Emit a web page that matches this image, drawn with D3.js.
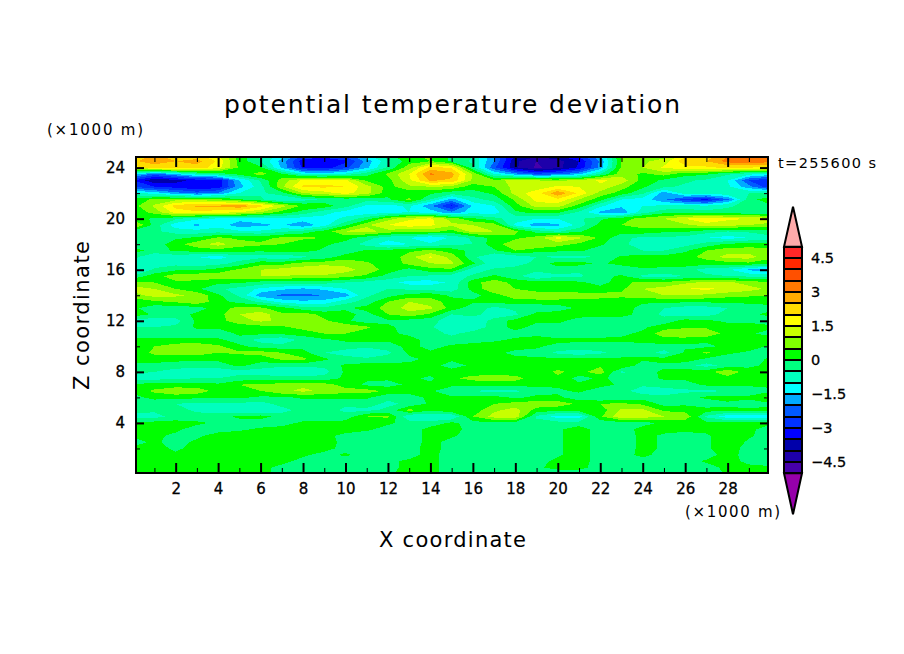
<!DOCTYPE html>
<html>
<head>
<meta charset="utf-8">
<script src="https://cdn.jsdelivr.net/npm/d3@7"></script>
<style>
  html, body { margin: 0; padding: 0; background: #fff; }
  text { font-family: "DejaVu Sans", sans-serif; fill: #000; }
</style>
</head>
<body>
<svg id="chart" width="904" height="654"></svg>
<script>
//Grid positions, km
var xCoords = d3.range(0, 31);
var zCoords = [24.9,24.5,24,23.5,23,22.5,22,21.5,21,20.5,20,19.5,19,18.5,18,17.5,17,16.5,16,15.5,15,14.5,14,13.5,13,12.5,12,11.5,11,10.5,10,9.5,9,8.5,8,7.5,7,6.5,6,5.5,5,4.5,4,3.5,3,2.5,2,1.5,1,.5,.1];

//Potential temperature deviation, one row per entry of zCoords
var thetaRows = [
[2.2,2.6,2.3,2.2,1.6,.3,-.6,-1.2,-2.6,-2.8,-2.4,-1.2,-.2,.4,.6,-.1,-.5,-2,-3.6,-3.9,-3.6,-2.8,-1.6,.6,1,.8,1.9,2.2,3,3.3,2.8],
[2.4,2.8,2.5,2.7,1.9,.3,-.5,-1.7,-3.3,-3.4,-3.1,-1.8,-.6,.3,.5,-.1,-.6,-2,-3.9,-4.5,-4.2,-3.5,-1.9,.5,.9,1.2,2.4,2.5,3.2,3.5,3.2],
[1.8,2.2,2.3,2.3,1.7,.4,.1,-1.6,-3.1,-3.2,-2.7,-1.6,-.4,.8,2.2,1.9,-.4,-2.4,-3.9,-4.6,-4.2,-3.4,-1.8,.6,1,1.6,1.8,1.9,2.1,2,1.9],
[-1.2,-2.2,-1.5,-.7,-.3,.2,.7,.1,-1,-1.2,-.9,-.2,.6,1.5,3.1,2.7,.9,-1,-1.8,-2.4,-2.2,-1.6,-.5,.8,.4,.7,.2,.1,-.4,-.8,-1.2],
[-3,-3.9,-3.7,-3.3,-3.3,-1.5,-.4,.7,1.6,1.8,1.6,.4,.3,1.4,2.6,2.4,.9,.6,1.4,1,.9,1.1,1.6,1.3,.3,-.1,-.4,-.6,-1,-2.5,-3],
[-2.5,-3,-3.2,-3.5,-3.3,-1.7,-.7,.9,2.1,2.1,2,1.2,.3,.9,1,.9,.2,.5,1.2,1.2,1.6,1.5,1.4,.7,.1,-.4,-.6,-.7,-.9,-1.8,-2.9],
[-.9,-1.2,-1.8,-2.2,-1.9,-1,-.6,-.2,1,1.3,1.7,1.2,.2,.2,.1,-.3,-.2,.1,1.2,1.8,2.9,1.9,.8,.3,-.4,-1.8,-.7,-.8,-.6,-.5,-.4],
[.2,.6,.8,.8,.6,.1,-.4,-1,-.7,-.4,-.3,-.3,-.1,.6,-.5,-1.7,-.7,-.3,.6,1.7,1.9,1,.2,-1,-1.2,-1.9,-2.7,-3.1,-2.1,-.2,.3],
[.3,1.1,2.2,2.6,2.6,2.9,2.2,1.2,.4,.3,-.3,-1.1,-1.2,-.9,-1.9,-3.1,-1.4,-1,.3,1.2,1.2,.3,-.9,-1.4,-1,-.9,-.8,-.9,-.6,-.3,-.1],
[.1,.7,1.7,1.9,1.7,1.5,1,.3,-.2,-.8,-1.2,-1.3,-1.2,-1,-1.2,-1.9,-1.2,-1.3,-.1,.2,.1,-.6,-1.6,-1.9,-.7,-.2,-.2,-.3,-.3,-.4,-.3],
[.3,-.1,-.4,-.9,-1.1,-1.3,-1.2,-1.1,-1.2,-1.2,-.9,-.2,.8,1.4,1.6,.8,.1,-.3,-.8,-1,-1,-.6,-.1,.3,.7,1,1.5,1.9,1.6,1.5,1.2],
[1.2,-.2,-1.3,-1.6,-1.2,-1.8,-1.6,-1.45,-1.9,-1.2,-.1,.9,1.5,1.8,1.6,1.1,1,.8,-1.1,-1.8,-1.6,-.8,.2,.5,.7,.8,.9,1.3,1.2,1,.9],
[-.2,-.4,-.7,-.8,-.7,-.9,-.9,-.6,-.3,.2,1,1.2,.8,.6,.7,.3,1.2,1,.6,-.2,-.6,-.1,.5,.2,.3,.1,.1,-.3,-.5,-.4,-.2],
[-.4,-.4,-.1,.1,.6,.4,.3,.6,.6,.5,.2,-.3,-.8,-1,-1.5,-.9,-.4,.2,.4,.7,1.7,1.1,.4,-.4,-.6,-.6,-.7,-1,-1.2,-1,-.7],
[-.3,-.3,.3,.8,1.2,.7,.6,.5,.2,.1,-.2,-.7,-1.3,-1,-.9,-.6,-.5,.3,.8,1,.7,.4,.1,-.4,-.7,-.9,-.7,-.3,.1,.2,.1],
[.3,-.3,.1,.2,.3,.2,.1,.3,.2,-.1,-.4,.1,.2,.4,.6,.3,-.2,-.1,.5,.2,.1,.1,-.3,-.4,-.5,-.5,-.1,.5,.8,.8,.8],
[-.4,-.8,-.8,-1,-1.2,-.8,-.7,-.9,-.6,-.3,.3,.2,.1,.8,1.6,.8,-.4,-1,-.8,-.5,-.6,-.6,-.5,.1,.2,.2,.3,.7,1.2,1.2,.7],
[-.5,-.8,-.7,-.8,-.7,-.3,.3,.3,.7,.8,.8,.6,.1,.7,1,1.1,.1,-.9,-.8,-.3,.2,.2,-.1,.2,.3,.3,.3,.2,.3,.4,.1],
[-1.3,-.4,-.1,-.1,.2,.6,1,1.2,1.3,1.5,1.2,.8,.3,-.2,.3,.4,-.8,-.4,-.2,-.3,-.2,-.4,-.5,-.4,-.1,-.2,-.3,-.7,-.9,-1.6,-1.8],
[-.4,.3,.8,.9,.8,.9,1,1,.9,.9,.7,.4,-.2,-.5,-.6,-.8,-.4,.1,-.3,-1,-.6,-.6,-.2,.1,-.6,-.7,-.5,-.4,-.5,-.6,-.7],
[.7,.5,.4,.3,.1,.1,-.2,-.3,-.2,-.3,-.5,-.7,-.8,-1.2,-1.2,-.9,.3,.8,.3,.2,.2,.1,-.2,.3,.7,.6,.9,1.1,1.1,.8,.6],
[1.2,1,.5,.1,-.4,-.7,-1.1,-1.4,-1.6,-1.4,-1,-.7,-.5,-.6,-.7,-.8,.2,.9,.5,.2,.1,.1,.2,.4,1,1.2,1.5,1.6,1.4,1.2,.9],
[.8,1.2,1.1,.9,.1,-.6,-1.8,-2.1,-2.1,-2,-1.7,-.6,-.2,.2,.3,-.1,-.2,.3,.8,.9,.9,.8,.7,.6,.8,1,1,.9,.7,.6,.5],
[.2,.4,.6,.9,.2,-.2,-.6,-1.2,-1.4,-1.3,-.7,-.3,.5,1,.8,.2,.1,.1,.3,.3,.3,.3,.3,.3,.1,.1,.1,.1,.1,.1,.1],
[.1,-.3,-.3,-.2,.2,.7,.6,.2,-.3,-.4,-.1,.2,.7,1.2,1.1,.3,-.3,-.6,-.4,-.4,-.3,.1,.2,.3,-.2,-.5,-.7,-.7,-.5,-.2,-.1],
[.3,-.1,-.2,.1,.3,1,1.3,.6,.8,.3,.2,-.2,.5,.8,.4,-.5,-.3,-.8,-.6,.2,.3,.3,.2,.2,-.2,-.6,-.7,-.7,-.3,-.1,.1],
[-.7,-.8,-.7,.1,.3,.8,1.1,.9,.8,.6,.1,-.3,-.1,-.2,-.3,-.8,-.9,-.3,.2,.1,.2,-.3,-.3,-.3,-.3,-.3,.2,.1,-.1,-.1,-.2],
[-.5,-.5,-.4,.1,.1,.2,.3,.4,.7,.8,.9,.6,.1,-.2,-.4,-1,-.8,-.3,.2,-.2,-.3,-.3,-.3,-.3,-.1,.3,.4,.4,.2,.2,.1],
[-.2,-.2,-.2,-.3,-.3,.1,.1,.1,.2,.5,.5,.2,.1,-.1,-.3,-.6,-.3,-.3,-.2,-.2,-.5,-.3,-.2,-.1,.1,.8,1,.9,.3,.1,-.2],
[.1,.1,.1,.1,.1,-.2,-.7,-.9,-.3,-.1,.1,.2,.1,.2,-.2,-.3,-.2,-.1,.1,.3,.2,.1,.1,.1,.3,.3,.2,.1,.3,.3,.3],
[.2,.5,.8,.9,.6,.1,-.2,-.3,-.2,-.2,-.3,-.4,-.3,.2,-.2,.1,.2,.3,.3,.1,-.2,-.2,-.2,-.3,-.3,-.2,-.1,-.1,.1,.3,-.1],
[.2,.6,.7,.8,.5,.6,.7,.5,.2,-.5,-.7,-.9,-.6,.1,.1,.2,.3,.2,-.2,-.2,-.6,-.8,-.6,-.3,-.2,-.7,.1,.6,.1,-.1,-.2],
[.2,.3,.2,.1,.1,.2,.2,.6,.6,.1,-.3,-.4,-.3,-.1,.1,.1,.2,.2,.2,.1,.1,.1,.1,.1,.1,.2,.3,-.1,-.3,-.3,.1],
[-.1,-.2,-.3,-.3,-.2,.1,-.2,-.4,-.3,-.4,.1,.2,.2,.1,.2,-.2,.1,.1,.2,.3,.3,.2,.4,.5,-.3,-.1,-.3,-.7,-.3,-.1,.1],
[-.4,-.5,-.7,-.8,-.9,-.7,-.8,-.9,-1,-.7,.1,.3,.1,.2,.2,.2,.2,.2,.2,.2,.6,.3,.8,-.6,-.2,.1,.2,.3,.9,.2,.2],
[-.7,-.7,-.6,-.5,-.5,-.3,-.2,-.3,-.3,-.3,.1,.1,.1,.1,-.1,.4,.7,.8,.7,.2,.4,-.2,.1,-.2,-.3,.1,.1,.5,.3,.2,.1],
[.1,.2,.2,.2,.1,.5,.6,.7,.9,.7,.3,-.1,-.2,.1,.1,.2,.1,.2,.2,.1,.1,.1,.2,-.1,-.4,-.3,-.2,.1,.1,.1,.1],
[.2,.6,.9,.8,.3,.2,.5,.9,1.1,.9,.7,.7,.4,.2,.1,-.5,-.5,-.7,-.6,-.2,-.1,.1,-.3,-.3,-.8,-.7,-.6,-.6,-.5,-.3,-.1],
[-.2,.2,.2,.1,.1,.1,-.1,-.1,.1,.1,.1,.1,-.4,-.2,.1,.1,.2,.2,-.1,.1,.1,-.3,-.5,-.4,-.2,-.4,-.2,.1,.2,.1,.6],
[-.1,-.4,-.5,-.6,-.6,-.6,-.7,-.3,-.3,-.3,-.4,-.3,-.6,-.4,.1,.1,.2,.5,.7,.8,.8,.4,.5,.6,.4,-.2,-.1,-.3,-.1,-.2,-.1],
[-.2,-.4,-.3,-.6,-.8,-.9,-1,-.7,-.3,-.3,-.6,-.6,-.4,.7,.1,.4,.2,.9,1.2,.3,.1,.2,.2,1.1,1.1,.4,.3,.2,.1,.1,.1],
[-.8,-.7,-.3,-.3,-.2,.1,.2,-.2,-.3,-.3,-.3,.5,.6,-1,-1,-1,.5,1.2,1.3,-.6,-1.2,-1.2,.4,1.4,1.3,1,.9,-.6,-1.3,-1.3,-1.3],
[.2,.2,.2,.1,-.1,-.2,-.3,-.2,.1,.1,.2,.3,.1,-.2,-.3,.1,-.2,-.1,-.2,-.3,-.3,-.3,-.3,-.2,-.2,.1,.1,.1,.1,.1,.1],
[.2,.2,.1,-.2,-.2,-.1,.1,.2,.3,.3,.3,.1,-.2,-.3,.2,.3,-.3,-.3,-.3,-.3,-.1,.3,-.3,-.3,.2,.2,.2,.2,.3,.1,-.2],
[.1,.1,-.1,-.1,.2,.3,.3,.3,.3,.2,-.2,-.3,-.3,-.3,.2,.1,-.3,-.3,-.3,-.3,-.1,.3,-.3,-.4,.2,-.1,-.3,-.1,.4,.1,-.3],
[-.2,.1,-.2,.1,.3,.3,.3,.3,.3,.3,-.2,-.3,-.3,-.3,.2,-.2,-.3,-.3,-.3,-.3,-.1,.3,-.3,-.4,.2,-.1,-.3,-.1,.4,-.1,-.3],
[.1,.2,-.1,.2,.3,.3,.3,.3,.3,.2,-.2,-.3,-.3,-.2,.2,-.2,-.3,-.3,-.3,-.3,-.1,.3,-.3,-.4,.2,-.1,-.3,-.1,.4,-.3,-.3],
[.2,.2,.1,.3,.3,.3,.3,.3,.1,-.2,.1,-.3,-.3,-.2,.2,-.3,-.3,-.3,-.3,-.3,-.1,.3,-.3,-.3,.2,-.3,-.3,-.3,.3,-.3,-.3],
[.2,.2,.2,.2,.2,.2,.2,.2,-.2,-.3,-.3,-.3,-.1,.1,.2,-.3,-.3,-.3,-.3,-.3,.2,.3,-.3,-.3,-.3,-.3,-.3,.1,.3,-.2,-.3],
[.2,.2,.2,.2,.2,.2,.2,-.2,-.3,-.3,-.3,-.3,-.2,.2,.2,-.3,-.3,-.3,-.3,-.1,.2,.2,-.3,-.3,-.3,-.3,-.3,-.3,.2,.2,.1],
[.2,.2,.2,.2,.2,.2,.2,-.2,-.3,-.3,-.3,-.3,-.1,.2,.2,-.3,-.3,-.3,-.3,-.3,-.3,-.3,-.3,-.3,-.3,-.3,-.3,-.3,.1,.2,.2]
];

//Contour levels and the colours between them, lowest first (first = below -5, last = above 5)
var levelValues = d3.range(-10, 11).map(function(d) { return d / 2; });
var bandColors = ["#9600aa","#4600aa","#1e00aa","#0000aa","#0000ff","#0032ff","#005aff","#00aaff","#00ffff","#00ffbe","#00ff80","#00ff00","#80ff00","#c8ff00","#ffff00","#ffdc00","#ffaa00","#ff7800","#ff5000","#ff2800","#ff2828","#ffaaaa"];

var xMajorTicks = d3.range(2, 30, 2);
var xMinorTicks = d3.range(1, 30, 2);
var zMajorTicks = [4, 8, 12, 16, 20, 24];
var zMinorTicks = [2, 6, 10, 14, 18, 22];
var barLabels = [-4.5, -3, -1.5, 0, 1.5, 3, 4.5];

//Scales, the frame does not start at exactly x=0 and z=0
var xScale = d3.scaleLinear().domain([0, 30]).range([133.2, 770.1]);
var zScale = d3.scaleLinear().domain([0, 24]).range([474, 167.6]);
var barScale = d3.scaleLinear().domain([-5, 5]).range([473.3, 246.7]);
var frame = { left: 136, right: 768, top: 157, bottom: 473 };

//Grid index to km, for the contour coordinates
var xIndex = d3.scaleLinear().domain(d3.range(xCoords.length)).range(xCoords);
var zIndex = d3.scaleLinear().domain(d3.range(zCoords.length)).range(zCoords);

var svg = d3.select("#chart");

svg.append("defs").append("clipPath").attr("id", "frameClip")
  .append("rect")
  .attr("x", frame.left).attr("y", frame.top)
  .attr("width", frame.right - frame.left).attr("height", frame.bottom - frame.top);

//Filled contours
var contours = d3.contours()
  .size([xCoords.length, zCoords.length])
  .thresholds(levelValues)(d3.merge(thetaRows));

var toScreen = d3.geoTransform({
  point: function(c, r) {
    this.stream.point(xScale(xIndex(c - 0.5)), zScale(zIndex(r - 0.5)));
  }
});

var plot = svg.append("g").attr("clip-path", "url(#frameClip)");

plot.append("rect")
  .attr("x", frame.left).attr("y", frame.top)
  .attr("width", frame.right - frame.left).attr("height", frame.bottom - frame.top)
  .attr("fill", bandColors[0]);

plot.selectAll("path")
  .data(contours)
  .enter().append("path")
  .attr("d", d3.geoPath(toScreen))
  .attr("fill", function(d, i) { return bandColors[i + 1]; })
  .attr("shape-rendering", "crispEdges");

//Frame and ticks, all pointing inwards
function drawAxis(axis, tx, ty, size, width) {
  var g = svg.append("g")
    .attr("transform", "translate(" + tx + "," + ty + ")")
    .call(axis.tickSize(-size).tickSizeOuter(0));
  g.select(".domain").remove();
  g.selectAll("line").attr("stroke", "#000").attr("stroke-width", width);
  return g;
}

var noLabel = function() { return ""; };

drawAxis(d3.axisBottom(xScale).tickValues(xMinorTicks).tickFormat(noLabel), 0, frame.bottom, 5, 1);
drawAxis(d3.axisTop(xScale).tickValues(xMinorTicks).tickFormat(noLabel), 0, frame.top, 5, 1);
drawAxis(d3.axisTop(xScale).tickValues(xMajorTicks).tickFormat(noLabel), 0, frame.top, 10, 2);
drawAxis(d3.axisLeft(zScale).tickValues(zMinorTicks).tickFormat(noLabel), frame.left, 0, 4, 1);
drawAxis(d3.axisRight(zScale).tickValues(zMinorTicks).tickFormat(noLabel), frame.right, 0, 4, 1);
drawAxis(d3.axisRight(zScale).tickValues(zMajorTicks).tickFormat(noLabel), frame.right, 0, 8, 2);

var xAxisG = drawAxis(d3.axisBottom(xScale).tickValues(xMajorTicks).tickPadding(10), 0, frame.bottom, 10, 2);
var zAxisG = drawAxis(d3.axisLeft(zScale).tickValues(zMajorTicks).tickPadding(11), frame.left, 0, 8, 2);

svg.selectAll(".tick text")
  .attr("font-size", 15)
  .attr("font-family", "DejaVu Sans")
  .attr("stroke", "#000")
  .attr("stroke-width", 0.3);

svg.append("rect")
  .attr("x", frame.left).attr("y", frame.top)
  .attr("width", frame.right - frame.left).attr("height", frame.bottom - frame.top)
  .attr("fill", "none").attr("stroke", "#000").attr("stroke-width", 2)
  .attr("shape-rendering", "crispEdges");

//Colour bar with a triangle at both ends
var barLeft = 784, barRight = 802, barMid = (barLeft + barRight) / 2;
var bar = svg.append("g");

bar.selectAll("rect")
  .data(d3.pairs(levelValues))
  .enter().append("rect")
  .attr("x", barLeft)
  .attr("width", barRight - barLeft)
  .attr("y", function(d) { return barScale(d[1]); })
  .attr("height", function(d) { return barScale(d[0]) - barScale(d[1]); })
  .attr("fill", function(d, i) { return bandColors[i + 1]; })
  .attr("stroke", "#000")
  .attr("stroke-width", 2)
  .attr("shape-rendering", "crispEdges");

var triangle = d3.line();
bar.append("path")
  .attr("d", triangle([[barLeft, barScale(5)], [barMid, barScale(5) - 40], [barRight, barScale(5)]]) + "Z")
  .attr("fill", bandColors[bandColors.length - 1])
  .attr("stroke", "#000").attr("stroke-width", 2);
bar.append("path")
  .attr("d", triangle([[barLeft, barScale(-5)], [barMid, barScale(-5) + 41], [barRight, barScale(-5)]]) + "Z")
  .attr("fill", bandColors[0])
  .attr("stroke", "#000").attr("stroke-width", 2);

var barAxis = svg.append("g")
  .attr("transform", "translate(" + barRight + ",0)")
  .call(d3.axisRight(barScale).tickValues(barLabels).tickSize(0).tickPadding(9)
    .tickFormat(function(d) { return String(d).replace("-", "\u2212"); }));
barAxis.select(".domain").remove();
barAxis.selectAll("text")
  .attr("font-size", 14.5)
  .attr("font-family", "DejaVu Sans")
  .attr("stroke", "#000")
  .attr("stroke-width", 0.3);

//Titles and notes
function label(txt, x, y, size, width, anchor) {
  return svg.append("text")
    .attr("x", x).attr("y", y)
    .attr("font-size", size)
    .attr("text-anchor", anchor || "start")
    .attr("textLength", width)
    .attr("lengthAdjust", "spacing")
    .text(txt);
}

label("potential temperature deviation", 224, 113, 25, 456);
label("X coordinate", 379, 547, 21, 147);
label("(\u00d71000 m)", 47, 135, 15, 96);
label("(\u00d71000 m)", 685, 517, 15, 95);
label("t=255600 s", 778, 168, 14.5, 98);

svg.append("text")
  .attr("transform", "translate(89,390) rotate(-90)")
  .attr("font-size", 21)
  .attr("textLength", 149)
  .attr("lengthAdjust", "spacing")
  .text("Z coordinate");
</script>
</body>
</html>
